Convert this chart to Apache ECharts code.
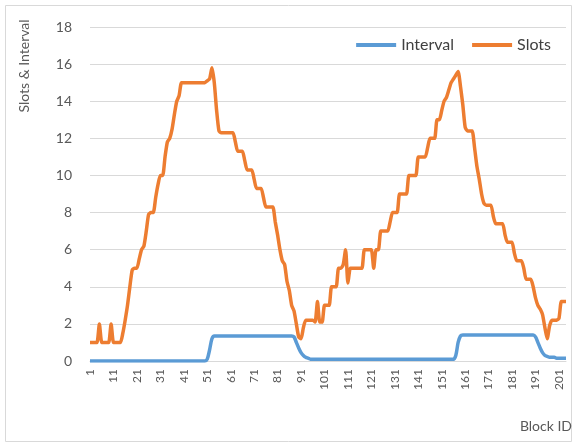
<!DOCTYPE html>
<html>
<head>
<meta charset="utf-8">
<script src="https://cdn.jsdelivr.net/npm/echarts@6/dist/echarts.min.js"></script>
<style>
html,body{margin:0;padding:0;background:#fff;}
#chart{width:576px;height:447px;}
</style>
</head>
<body>
<div id="chart"></div>
<script>
// Slots per block, block IDs 1..204
var slots = [
  1,1,1,1,2,1,1,1,1,2,            // 1-10
  1,1,1,1,1.5,2.2,3,4,4.9,5,      // 11-20
  5,5.5,6,6.2,7,7.9,8,8,8.8,9.5,  // 21-30
  10,10,11,11.8,12,12.5,13.3,14,14.3,15, // 31-40
  15,15,15,15,15,15,15,15,15,15,  // 41-50
  15.1,15.2,15.8,15,13.5,12.4,12.3,12.3,12.3,12.3, // 51-60
  12.3,12.3,11.8,11.3,11.3,11.3,10.8,10.3,10.3,10.3, // 61-70
  9.8,9.3,9.3,9.3,8.8,8.3,8.3,8.3,8.3,7.5, // 71-80
  6.8,6,5.4,5.2,4.3,3.8,3,2.7,2,1.3,      // 81-90
  1.2,1.8,2.2,2.2,2.2,2.2,2.1,3.2,2.1,2.1, // 91-100
  3,3,3,4,4,4,5,5,5.2,6,          // 101-110
  4.2,5,5,5,5,5,5,6,6,6,          // 111-120
  6,5,6,6,7,7,7,7,7.5,8,          // 121-130
  8,8,9,9,9,9,10,10,10,10,        // 131-140
  11,11,11,11,11.5,12,12,12,13,13, // 141-150
  13.5,14,14.2,14.6,15,15.2,15.4,15.6,14.8,13.8, // 151-160
  12.6,12.4,12.4,12.4,11.5,10.5,9.8,9,8.5,8.4, // 161-170
  8.4,8.4,7.8,7.4,7.4,7.4,7.4,6.8,6.4,6.4, // 171-180
  6.4,5.8,5.4,5.4,5.4,5,4.4,4.4,4.4,4,    // 181-190
  3.4,3,2.8,2.5,1.8,1.2,1.9,2.2,2.2,2.2,  // 191-200
  2.3,3.2,3.2,3.2                          // 201-204
];
// Interval per block
var interval = [
  0,0,0,0,0,0,0,0,0,0,            // 1-10
  0,0,0,0,0,0,0,0,0,0,            // 11-20
  0,0,0,0,0,0,0,0,0,0,            // 21-30
  0,0,0,0,0,0,0,0,0,0,            // 31-40
  0,0,0,0,0,0,0,0,0,0,            // 41-50
  0.1,0.6,1.2,1.35,1.35,1.35,1.35,1.35,1.35,1.35, // 51-60
  1.35,1.35,1.35,1.35,1.35,1.35,1.35,1.35,1.35,1.35, // 61-70
  1.35,1.35,1.35,1.35,1.35,1.35,1.35,1.35,1.35,1.35, // 71-80
  1.35,1.35,1.35,1.35,1.35,1.35,1.35,1.3,1.0,0.7, // 81-90
  0.45,0.3,0.2,0.15,0.1,0.1,0.1,0.1,0.1,0.1, // 91-100
  0.1,0.1,0.1,0.1,0.1,0.1,0.1,0.1,0.1,0.1, // 101-110
  0.1,0.1,0.1,0.1,0.1,0.1,0.1,0.1,0.1,0.1, // 111-120
  0.1,0.1,0.1,0.1,0.1,0.1,0.1,0.1,0.1,0.1, // 121-130
  0.1,0.1,0.1,0.1,0.1,0.1,0.1,0.1,0.1,0.1, // 131-140
  0.1,0.1,0.1,0.1,0.1,0.1,0.1,0.1,0.1,0.1, // 141-150
  0.1,0.1,0.1,0.1,0.1,0.1,0.3,1.0,1.35,1.4, // 151-160
  1.4,1.4,1.4,1.4,1.4,1.4,1.4,1.4,1.4,1.4, // 161-170
  1.4,1.4,1.4,1.4,1.4,1.4,1.4,1.4,1.4,1.4, // 171-180
  1.4,1.4,1.4,1.4,1.4,1.4,1.4,1.4,1.4,1.4, // 181-190
  1.3,1.0,0.7,0.45,0.3,0.25,0.2,0.2,0.2,0.15, // 191-200
  0.15,0.15,0.15,0.15              // 201-204
];
var blockIds = slots.map(function (_, i) { return String(i + 1); });
var yTicks = [0, 2, 4, 6, 8, 10, 12, 14, 16, 18];

var FONT = 'Lato, "Open Sans", sans-serif';
var chart = echarts.init(document.getElementById('chart'), null, {renderer: 'canvas'});
chart.setOption({
  animation: false,
  backgroundColor: '#ffffff',
  textStyle: {fontFamily: FONT},
  grid: {left: 90, right: 10, top: 27, bottom: 86, containLabel: false},
  legend: {
    right: 20, top: 32,
    icon: 'rect', itemWidth: 40, itemHeight: 4, itemGap: 18,
    textStyle: {fontFamily: FONT, fontSize: 16, color: '#404040'},
    data: ['Interval', 'Slots']
  },
  xAxis: {
    type: 'category',
    data: blockIds,
    boundaryGap: false,
    axisLine: {show: true, lineStyle: {color: '#d9d9d9'}},
    axisTick: {show: false},
    axisLabel: {
      interval: 9, rotate: 90, margin: 8,
      fontFamily: FONT, fontSize: 12, color: '#595959'
    },
    splitLine: {show: false}
  },
  yAxis: {
    type: 'value',
    min: yTicks[0], max: yTicks[yTicks.length - 1], interval: 2,
    axisLine: {show: false},
    axisTick: {show: false},
    axisLabel: {margin: 18, fontFamily: FONT, fontSize: 14, color: '#595959'},
    splitLine: {lineStyle: {color: '#d9d9d9', width: 1}}
  },
  graphic: [
    {type: 'rect', shape: {x: 5.5, y: 5.5, width: 566, height: 436},
     style: {fill: 'none', stroke: '#d9d9d9', lineWidth: 1}, silent: true, z: -1},
    {type: 'text', x: 24, y: 66, rotation: Math.PI / 2,
     style: {text: 'Slots & Interval', fill: '#595959', font: '14px ' + FONT,
             align: 'center', verticalAlign: 'middle', textAlign: 'center', textVerticalAlign: 'middle'}},
    {type: 'text', x: 572, y: 426,
     style: {text: 'Block ID', fill: '#595959', font: '14px ' + FONT,
             align: 'right', verticalAlign: 'middle', textAlign: 'right', textVerticalAlign: 'middle'}}
  ],
  series: [
    {
      name: 'Interval', type: 'line', data: interval,
      showSymbol: false, symbol: 'none', smooth: 0.3,
      lineStyle: {color: '#5B9BD5', width: 3.5},
      itemStyle: {color: '#5B9BD5'}
    },
    {
      name: 'Slots', type: 'line', data: slots,
      showSymbol: false, symbol: 'none', smooth: 0.2,
      lineStyle: {color: '#ED7D31', width: 3.5},
      itemStyle: {color: '#ED7D31'}
    }
  ]
});
</script>
</body>
</html>
